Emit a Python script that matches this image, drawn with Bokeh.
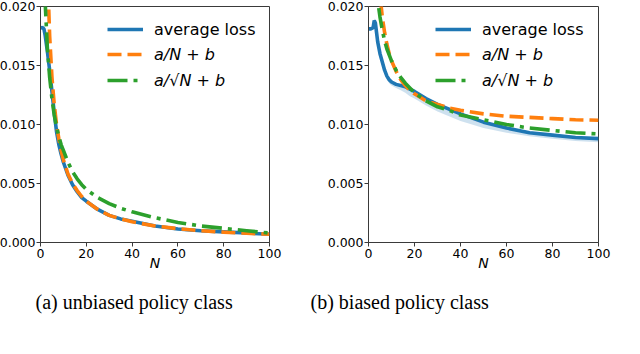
from bokeh.plotting import figure
from bokeh.layouts import row
from bokeh.models import Range1d, Legend, LegendItem, Title, FixedTicker
from bokeh.embed import file_html
from bokeh.resources import INLINE

# ---------------- data ----------------
x_ticks = [0, 20, 40, 60, 80, 100]
y_ticks = [0.0, 0.005, 0.010, 0.015, 0.020]
y_tick_labels = ["0.000", "0.005", "0.010", "0.015", "0.020"]
legend_labels = ["average loss", "a/N + b", "a/\u221aN + b"]
captions = ["(a) unbiased policy class", "(b) biased policy class"]
x_label = "N"

# (a) unbiased policy class
n_loss_a = [0, 1, 1.5, 2, 3, 4, 5, 6, 7, 8, 9, 10, 12, 14, 16, 18, 20, 25, 30, 35, 40, 50, 60, 70, 80, 90, 100]
loss_a = [0.0182, 0.0182, 0.0181, 0.0176, 0.0162, 0.0146, 0.0128, 0.0110, 0.0094, 0.0083, 0.0075, 0.0068, 0.0057,
          0.0049, 0.0043, 0.0038, 0.0035, 0.0028, 0.0023, 0.0020, 0.0018, 0.0014, 0.00115, 0.0010, 0.0009, 0.0008, 0.0007]
loss_lo_a = [0.0180, 0.0180, 0.0178, 0.0172, 0.0157, 0.0141, 0.0124, 0.0107, 0.0092, 0.0081, 0.0073, 0.0066, 0.0056,
             0.0048, 0.0042, 0.0037, 0.0034, 0.0027, 0.0022, 0.0019, 0.0017, 0.0013, 0.0011, 0.00095, 0.00085, 0.00075, 0.00065]
loss_hi_a = [0.0184, 0.0184, 0.0184, 0.0180, 0.0167, 0.0151, 0.0132, 0.0113, 0.0096, 0.0085, 0.0077, 0.0070, 0.0058,
             0.0050, 0.0044, 0.0039, 0.0036, 0.0029, 0.0024, 0.0021, 0.0019, 0.0015, 0.0012, 0.00105, 0.00095, 0.00085, 0.00075]
n_inv_a = [2, 3, 4, 5, 6, 7, 8, 9, 10, 12, 14, 16, 18, 20, 25, 30, 35, 40, 50, 60, 70, 80, 90, 100]
inv_a = [0.0350, 0.0233, 0.0175, 0.0140, 0.0117, 0.0100, 0.0088, 0.0078, 0.0070, 0.0058, 0.0050, 0.0044, 0.0039,
         0.0035, 0.0028, 0.0023, 0.0020, 0.00175, 0.0014, 0.00117, 0.0010, 0.00088, 0.00078, 0.0007]
n_sqrt_a = [1, 1.5, 2, 3, 4, 5, 6, 7, 8, 9, 10, 12, 14, 16, 18, 20, 25, 30, 35, 40, 50, 60, 70, 80, 90, 100]
sqrt_a = [0.0300, 0.0240, 0.0205, 0.0165, 0.0140, 0.0122, 0.0108, 0.0098, 0.0090, 0.0083, 0.0078, 0.0068, 0.0060,
          0.0054, 0.0049, 0.0045, 0.0038, 0.0033, 0.0029, 0.0026, 0.0021, 0.0017, 0.0014, 0.0012, 0.0010, 0.0008]

# (b) biased policy class
n_loss_b = [0, 1, 2, 2.5, 3, 3.5, 4, 5, 6, 7, 8, 9, 10, 12, 14, 16, 18, 20, 25, 30, 35, 40, 50, 60, 70, 80, 90, 100]
loss_b = [0.0181, 0.0181, 0.0182, 0.0188, 0.0186, 0.0178, 0.0170, 0.0160, 0.0153, 0.0146, 0.0141, 0.0138, 0.0136,
          0.0134, 0.0133, 0.0132, 0.0130, 0.0128, 0.0122, 0.0117, 0.0113, 0.0109, 0.0102, 0.0097, 0.0093, 0.0091, 0.0089, 0.0088]
loss_lo_b = [0.0180, 0.0180, 0.0180, 0.0185, 0.0183, 0.0175, 0.0167, 0.0157, 0.0150, 0.0143, 0.0138, 0.0135, 0.0133,
             0.0131, 0.0129, 0.0127, 0.0124, 0.0122, 0.0116, 0.0111, 0.0107, 0.0103, 0.0097, 0.0093, 0.0090, 0.0088, 0.0086, 0.0085]
loss_hi_b = [0.0182, 0.0182, 0.0183, 0.0190, 0.0188, 0.0180, 0.0172, 0.0162, 0.0155, 0.0148, 0.0143, 0.0140, 0.0138,
             0.0135, 0.0134, 0.0133, 0.0131, 0.0129, 0.0123, 0.0118, 0.0114, 0.0110, 0.0103, 0.0098, 0.0094, 0.0092, 0.0090, 0.0089]
n_inv_b = [4, 5, 6, 7, 8, 9, 10, 12, 14, 16, 18, 20, 25, 30, 35, 40, 50, 60, 70, 80, 90, 100]
inv_b = [0.0238, 0.0210, 0.0191, 0.0178, 0.0168, 0.0160, 0.0154, 0.0145, 0.0138, 0.0133, 0.0129, 0.0126, 0.0120,
         0.0117, 0.0114, 0.0112, 0.0109, 0.0107, 0.0106, 0.0105, 0.0104, 0.01036]
n_sqrt_b = [3, 4, 4.5, 5, 6, 7, 8, 9, 10, 12, 14, 16, 18, 20, 25, 30, 35, 40, 50, 60, 70, 80, 90, 100]
sqrt_b = [0.0229, 0.0207, 0.0198, 0.0191, 0.0180, 0.0171, 0.0164, 0.0159, 0.0154, 0.0146, 0.0140, 0.0135, 0.0131,
          0.0127, 0.0120, 0.0115, 0.0112, 0.0108, 0.0104, 0.0100, 0.0097, 0.0095, 0.0093, 0.0092]

BLUE, ORANGE, GREEN = "#1f77b4", "#ff7f0e", "#2ca02c"
SPINE = "#3a3a3a"
FONT = "DejaVu Sans"


def make_panel(n_loss, loss, lo, hi, n_inv, inv, n_sqrt, sqrt, caption, width, left, right, cap_offset):
    p = figure(width=width, height=354, output_backend="svg", toolbar_location=None,
               x_range=Range1d(0, 100), y_range=Range1d(0, 0.02),
               min_border_left=left, min_border_right=right, min_border_top=14, min_border_bottom=104)
    p.background_fill_color = "white"
    p.border_fill_color = "white"
    p.grid.visible = False
    p.outline_line_color = SPINE
    p.outline_line_width = 1

    p.varea(x=n_loss, y1=lo, y2=hi, fill_color=BLUE, fill_alpha=0.22)
    r1 = p.line(n_loss, loss, line_color=BLUE, line_width=3.6)
    r2 = p.line(n_inv, inv, line_color=ORANGE, line_width=3.6, line_dash="14 6")
    r3 = p.line(n_sqrt, sqrt, line_color=GREEN, line_width=3.6, line_dash="20 6 4 6")

    p.xaxis.ticker = FixedTicker(ticks=x_ticks)
    p.yaxis.ticker = FixedTicker(ticks=y_ticks)
    p.yaxis.major_label_overrides = {t: s for t, s in zip(y_ticks, y_tick_labels)}
    for ax in (p.xaxis[0], p.yaxis[0]):
        ax.axis_line_color = SPINE
        ax.major_tick_line_color = SPINE
        ax.major_tick_in = 0
        ax.major_tick_out = 4
        ax.minor_tick_line_color = None
        ax.major_label_text_font = FONT
        ax.major_label_text_font_size = "12.5px"
        ax.major_label_text_color = "black"
        ax.major_label_standoff = 1
    p.xaxis.major_label_standoff = 2
    p.xaxis.axis_label = x_label
    p.xaxis.axis_label_text_font = FONT
    p.xaxis.axis_label_text_font_style = "italic"
    p.xaxis.axis_label_text_font_size = "14px"
    p.xaxis.axis_label_text_color = "black"
    p.xaxis.axis_label_standoff = -6

    common = dict(border_line_color=None, background_fill_alpha=0, padding=0, margin=0,
                  glyph_width=36, glyph_height=20, label_height=20, label_standoff=11, spacing=6,
                  label_text_font=FONT, label_text_font_size="16px", label_text_color="black")
    leg1 = Legend(items=[LegendItem(label=legend_labels[0], renderers=[r1])], location=(67, 203), **common)
    leg2 = Legend(items=[LegendItem(label=legend_labels[1], renderers=[r2]),
                         LegendItem(label=legend_labels[2], renderers=[r3])],
                  location=(67, 152), label_text_font_style="italic", **common)
    p.add_layout(leg1)
    p.add_layout(leg2)

    t = Title(text=caption, align="left", offset=cap_offset, text_font="Liberation Serif",
              text_font_size="20px", text_font_style="normal", text_color="black", standoff=31)
    p.add_layout(t, "below")
    return p


p1 = make_panel(n_loss_a, loss_a, loss_lo_a, loss_hi_a, n_inv_a, inv_a, n_sqrt_a, sqrt_a,
                captions[0], 308, 48, 31, -5)
p2 = make_panel(n_loss_b, loss_b, loss_lo_b, loss_hi_b, n_inv_b, inv_b, n_sqrt_b, sqrt_b,
                captions[1], 340, 68, 42, -58)

layout = row(p1, p2, margin=(-8, 0, 0, -8))

open("out.html", "w").write(file_html(layout, INLINE))
